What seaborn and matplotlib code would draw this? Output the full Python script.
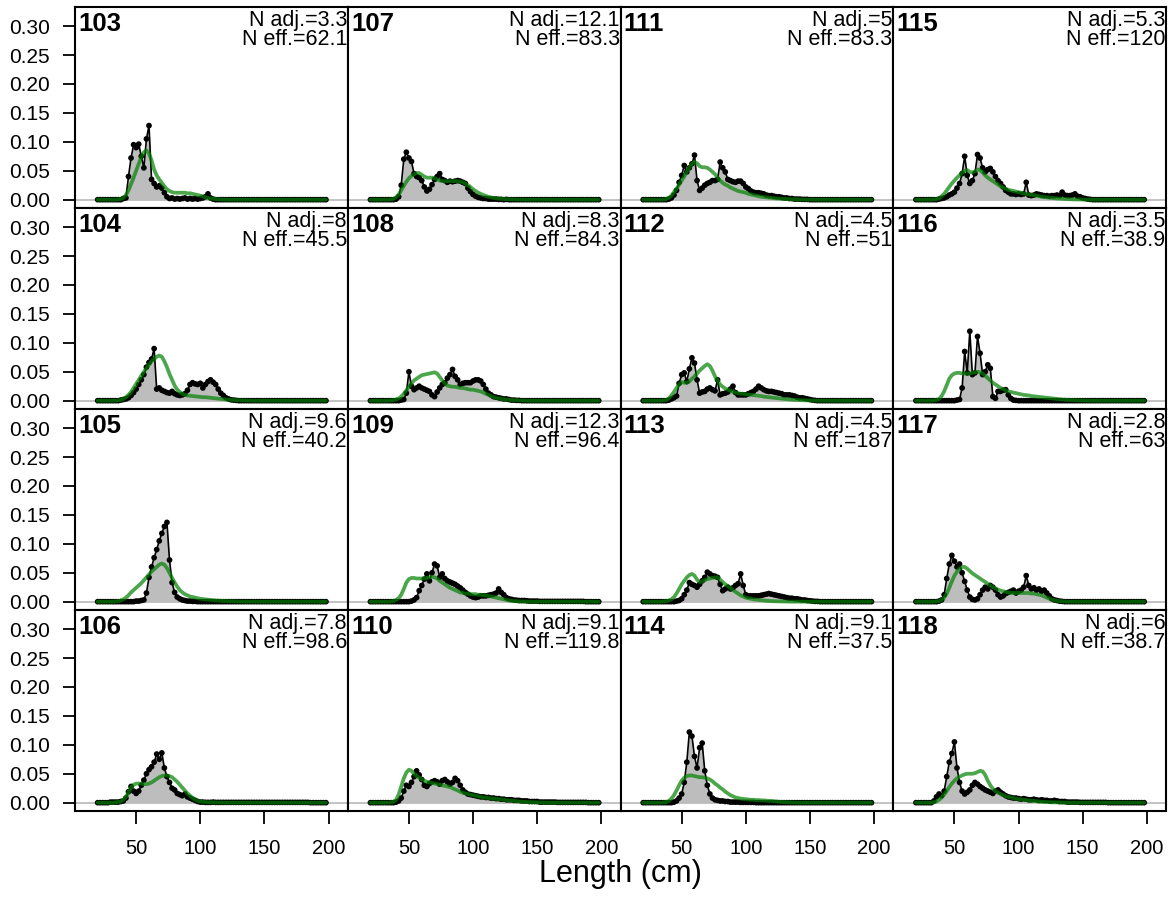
import numpy as np
import pandas as pd
import seaborn as sns
import matplotlib.pyplot as plt

# length bins (cm), 2 cm wide
lengths = list(range(20, 200, 2))

years = [103, 104, 105, 106, 107, 108, 109, 110, 111, 112, 113, 114, 115, 116, 117, 118]
n_adj = ['3.3', '8', '9.6', '7.8', '12.1', '8.3', '12.3', '9.1', '5', '4.5', '4.5', '9.1', '5.3', '3.5', '2.8', '6']
n_eff = ['62.1', '45.5', '40.2', '98.6', '83.3', '84.3', '96.4', '119.8', '83.3', '51', '187', '37.5', '120', '38.9', '63', '38.7']

# observed / expected proportions, in units of 0.001 (bins 20..198)
obs_103 = [0, 0, 0, 0, 0, 0, 0, 0, 0, 0,
           2, 3, 40, 72, 95, 90, 96, 75, 55, 105,
           128, 35, 28, 22, 24, 20, 12, 5, 2, 3,
           1, 2, 1, 2, 3, 1, 2, 1, 2, 1,
           2, 3, 5, 10, 3, 1, 0, 0, 0, 0,
           0, 0, 0, 0, 0, 0, 0, 0, 0, 0,
           0, 0, 0, 0, 0, 0, 0, 0, 0, 0,
           0, 0, 0, 0, 0, 0, 0, 0, 0, 0,
           0, 0, 0, 0, 0, 0, 0, 0, 0, 0]
exp_103 = [0, 0, 0, 0, 0, 0, 0, 0, 0.5, 1,
           3, 8, 16, 27, 38, 50, 62, 74, 82, 85,
           80, 68, 52, 42, 35, 29, 23, 18, 15, 13,
           12, 12, 12, 12, 12, 11, 11, 10, 9, 8,
           7, 6, 4, 3, 2, 1.5, 1, 0.5, 0.3, 0.2,
           0.1, 0, 0, 0, 0, 0, 0, 0, 0, 0,
           0, 0, 0, 0, 0, 0, 0, 0, 0, 0,
           0, 0, 0, 0, 0, 0, 0, 0, 0, 0,
           0, 0, 0, 0, 0, 0, 0, 0, 0, 0]

obs_104 = [0, 0, 0, 0, 0, 0, 0, 0, 0, 1,
           2, 3, 5, 9, 14, 20, 28, 36, 45, 58,
           66, 72, 90, 20, 22, 18, 16, 14, 13, 16,
           12, 10, 9, 10, 12, 18, 28, 31, 29, 28,
           30, 22, 28, 33, 36, 32, 28, 20, 13, 9,
           5, 3, 1.5, 1, 0.5, 0, 0, 0, 0, 0,
           0, 0, 0, 0, 0, 0, 0, 0, 0, 0,
           0, 0, 0, 0, 0, 0, 0, 0, 0, 0,
           0, 0, 0, 0, 0, 0, 0, 0, 0, 0]
exp_104 = [0, 0, 0, 0, 0, 0, 0, 0, 0.5, 1,
           3, 6, 10, 15, 22, 29, 36, 43, 50, 56,
           62, 68, 72, 76, 78, 76, 68, 58, 46, 36,
           26, 19, 15, 12, 10, 9, 8.5, 8, 7.5, 7,
           6.5, 6, 6, 5.5, 5, 4.5, 4, 3.5, 3, 2.5,
           2, 1.7, 1.4, 1.1, 0.9, 0.7, 0.5, 0.4, 0.3, 0.2,
           0.1, 0, 0, 0, 0, 0, 0, 0, 0, 0,
           0, 0, 0, 0, 0, 0, 0, 0, 0, 0,
           0, 0, 0, 0, 0, 0, 0, 0, 0, 0]

obs_105 = [0, 0, 0, 0, 0, 0, 0, 0, 0, 0,
           0, 0, 0, 0, 0, 1, 1, 2, 3, 15,
           42, 60, 76, 90, 105, 118, 130, 137, 72, 33,
           16, 8, 5, 3, 2, 1, 1, 0.5, 0.5, 0,
           0, 0, 0, 0, 0, 0, 0, 0, 0, 0,
           0, 0, 0, 0, 0, 0, 0, 0, 0, 0,
           0, 0, 0, 0, 0, 0, 0, 0, 0, 0,
           0, 0, 0, 0, 0, 0, 0, 0, 0, 0,
           0, 0, 0, 0, 0, 0, 0, 0, 0, 0]
exp_105 = [0, 0, 0, 0, 0, 0, 0, 0.5, 1, 2,
           4, 7, 11, 16, 20, 24, 28, 32, 37, 42,
           47, 52, 56, 60, 64, 66, 64, 58, 50, 41,
           33, 26, 20, 16, 13, 11, 9, 8, 7, 6,
           5, 4.5, 4, 3.5, 3, 2.5, 2, 1.8, 1.5, 1.2,
           1, 0.8, 0.6, 0.5, 0.4, 0.3, 0.2, 0.1, 0, 0,
           0, 0, 0, 0, 0, 0, 0, 0, 0, 0,
           0, 0, 0, 0, 0, 0, 0, 0, 0, 0,
           0, 0, 0, 0, 0, 0, 0, 0, 0, 0]

obs_106 = [0, 0, 0, 0, 0, 1, 1, 1, 1, 2,
           3, 8, 19, 28, 20, 16, 20, 30, 39, 50,
           57, 62, 70, 84, 75, 86, 60, 45, 35, 25,
           22, 16, 14, 12, 15, 10, 8, 6, 4, 2,
           1, 1, 0.5, 0.5, 0.5, 1, 0.5, 0.5, 0.5, 0.5,
           0.5, 0.5, 0.5, 0.5, 0.5, 0.5, 0.5, 0.5, 0.5, 0.5,
           0.5, 0.5, 0.5, 0.5, 0.5, 0.5, 0.5, 0.5, 0.5, 0.5,
           0.5, 0.5, 0.5, 0.5, 0.5, 0.5, 0.5, 0.5, 0.5, 0.5,
           0.5, 0.5, 0.5, 0, 0, 0, 0, 0, 0, 0]
exp_106 = [0, 0, 0, 0, 0, 0, 0, 0.5, 1, 2,
           5, 10, 18, 26, 31, 33, 33, 33, 32, 32,
           33, 35, 38, 41, 44, 46, 47, 47, 46, 44,
           40, 36, 31, 26, 21, 16, 12, 8, 5, 3,
           2, 1.5, 1, 0.8, 0.6, 0.5, 0.4, 0.3, 0.2, 0.1,
           0, 0, 0, 0, 0, 0, 0, 0, 0, 0,
           0, 0, 0, 0, 0, 0, 0, 0, 0, 0,
           0, 0, 0, 0, 0, 0, 0, 0, 0, 0,
           0, 0, 0, 0, 0, 0, 0, 0, 0, 0]

obs_107 = [0, 0, 0, 0, 0, 0, 0, 0, 0, 0,
           1, 5, 25, 70, 82, 72, 66, 45, 40, 38,
           33, 22, 15, 18, 26, 35, 40, 45, 35, 33,
           30, 32, 31, 32, 33, 32, 30, 28, 20, 14,
           9, 6, 4, 3, 2, 2, 1, 1, 1, 1,
           0.5, 0.5, 0, 0.5, 0, 0, 0, 0, 0, 0,
           0, 0, 0, 0, 0, 0, 0, 0, 0, 0,
           0, 0, 0, 0, 0, 0, 0, 0, 0, 0,
           0, 0, 0, 0, 0, 0, 0, 0, 0, 0]
exp_107 = [0, 0, 0, 0, 0, 0, 0, 0, 0.5, 1.5,
           4, 9, 16, 24, 31, 37, 41, 44, 46, 46,
           43, 40, 38, 38, 38, 37, 35, 33, 32, 32,
           32, 32, 32, 32, 32, 31, 30, 28, 25, 22,
           18, 15, 12, 10, 8, 6.5, 5, 4, 3, 2.5,
           2, 1.5, 1, 1, 0.7, 0.5, 0.4, 0.3, 0.2, 0.1,
           0, 0, 0, 0, 0, 0, 0, 0, 0, 0,
           0, 0, 0, 0, 0, 0, 0, 0, 0, 0,
           0, 0, 0, 0, 0, 0, 0, 0, 0, 0]

obs_108 = [0, 0, 0, 0, 0, 0, 0, 0, 0, 0,
           0, 0, 1, 2, 13, 50, 25, 19, 22, 25,
           22, 20, 18, 16, 10, 7, 15, 22, 28, 31,
           39, 45, 54, 42, 36, 28, 30, 31, 31, 31,
           34, 36, 36, 34, 28, 20, 13, 10, 7, 6,
           5, 4, 3, 3, 2, 1, 1, 0.5, 0.5, 0,
           0, 0, 0, 0, 0, 0, 0, 0, 0, 0,
           0, 0, 0, 0, 0, 0, 0, 0, 0, 0,
           0, 0, 0, 0, 0, 0, 0, 0, 0, 0]
exp_108 = [0, 0, 0, 0, 0, 0, 0, 0, 0.5, 1,
           2, 4, 7, 12, 18, 24, 30, 35, 38, 41,
           44, 45, 46, 47, 48, 49, 47, 41, 35, 30,
           26, 25, 24, 24, 23, 22, 22, 21, 20, 19,
           19, 18, 17, 16, 14, 12, 10, 8, 6, 5,
           4, 3, 2.5, 2, 1.5, 1.2, 1, 0.7, 0.5, 0.3,
           0.2, 0.1, 0, 0, 0, 0, 0, 0, 0, 0,
           0, 0, 0, 0, 0, 0, 0, 0, 0, 0,
           0, 0, 0, 0, 0, 0, 0, 0, 0, 0]

obs_109 = [0, 0, 0, 0, 0, 0, 0, 0, 0, 0,
           0, 0, 0, 0, 0, 0, 1, 3, 7, 19,
           28, 39, 48, 36, 50, 65, 62, 42, 48, 40,
           36, 34, 32, 30, 27, 24, 20, 16, 13, 10,
           8, 7, 8, 10, 10, 10, 11, 12, 13, 15,
           22, 16, 12, 7, 5, 4, 3, 2.5, 2, 2,
           2, 1.5, 1, 1, 1, 1, 0.5, 0.5, 0.5, 0.5,
           0.5, 0.5, 0.5, 0.5, 0.5, 0.5, 0.5, 0.5, 0.5, 0.5,
           0.5, 0.5, 0.5, 0.5, 0, 0, 0, 0, 0, 0]
exp_109 = [0, 0, 0, 0, 0, 0, 0, 0, 0.5, 1,
           3, 6, 12, 22, 33, 39, 41, 41, 40, 40,
           40, 40, 41, 42, 43, 42, 40, 36, 33, 30,
           27, 24, 22, 20, 18, 16, 15, 14, 14, 13,
           13, 13, 12, 12, 11, 11, 10, 9, 8, 7,
           6, 5, 4, 3, 2, 1.5, 1, 0.7, 0.5, 0.3,
           0.2, 0.1, 0, 0, 0, 0, 0, 0, 0, 0,
           0, 0, 0, 0, 0, 0, 0, 0, 0, 0,
           0, 0, 0, 0, 0, 0, 0, 0, 0, 0]

obs_110 = [0, 0, 0, 0, 0, 0, 0, 0, 0, 0,
           1, 3, 8, 20, 30, 28, 35, 45, 55, 48,
           40, 30, 28, 33, 36, 38, 36, 32, 38, 40,
           36, 32, 35, 42, 38, 30, 22, 18, 15, 14,
           13, 12, 11, 10, 10, 9, 9, 8, 8, 7,
           7, 6, 6, 5, 5, 5, 4, 4, 4, 3,
           3, 3, 2, 2, 2, 2, 1, 1, 1, 1,
           1, 1, 1, 0.5, 0.5, 0.5, 0.5, 0.5, 0.5, 0.5,
           0.5, 0.5, 0.5, 0.5, 0.5, 0, 0, 0, 0, 0]
exp_110 = [0, 0, 0, 0, 0, 0, 0, 0, 0.5, 1.5,
           5, 14, 28, 42, 52, 57, 55, 50, 46, 43,
           40, 38, 36, 35, 34, 33, 32, 31, 30, 29,
           28, 27, 25, 23, 21, 19, 17, 16, 15, 14,
           13, 12, 11, 10, 9, 8.5, 8, 7.5, 7, 6.5,
           6, 5.5, 5, 4.5, 4, 3.5, 3, 2.5, 2, 1.7,
           1.4, 1.2, 1, 0.8, 0.6, 0.5, 0.4, 0.3, 0.2, 0.1,
           0, 0, 0, 0, 0, 0, 0, 0, 0, 0,
           0, 0, 0, 0, 0, 0, 0, 0, 0, 0]

obs_111 = [0, 0, 0, 0, 0, 0, 0, 0, 0, 0,
           1, 3, 8, 16, 30, 42, 59, 48, 55, 62,
           77, 33, 16, 20, 25, 28, 30, 33, 33, 35,
           65, 55, 48, 35, 33, 31, 30, 32, 32, 28,
           22, 19, 15, 13, 12, 12, 11, 10, 8, 7,
           7, 6, 5, 5, 4, 3, 3, 2, 2, 1,
           1, 1, 0.5, 0.5, 0.5, 0, 0, 0, 0, 0,
           0, 0, 0, 0, 0, 0, 0, 0, 0, 0,
           0, 0, 0, 0, 0, 0, 0, 0, 0, 0]
exp_111 = [0, 0, 0, 0, 0, 0, 0, 0, 0.5, 1,
           3, 7, 13, 19, 26, 33, 40, 48, 56, 62,
           65, 63, 58, 56, 56, 55, 52, 48, 44, 38,
           33, 29, 26, 24, 21, 19, 17, 15, 14, 13,
           12, 10, 9, 8, 7, 6, 5, 4.5, 4, 3.5,
           3, 2.5, 2, 2, 1.5, 1.2, 1, 0.8, 0.6, 0.5,
           0.4, 0.3, 0.2, 0.1, 0, 0, 0, 0, 0, 0,
           0, 0, 0, 0, 0, 0, 0, 0, 0, 0,
           0, 0, 0, 0, 0, 0, 0, 0, 0, 0]

obs_112 = [0, 0, 0, 0, 0, 0, 0, 0, 0, 0,
           1, 3, 5, 8, 30, 45, 48, 33, 55, 74,
           65, 36, 13, 15, 16, 20, 22, 19, 17, 36,
           10, 12, 13, 15, 20, 25, 14, 10, 10, 10,
           10, 12, 14, 16, 20, 25, 22, 19, 17, 16,
           16, 15, 14, 13, 12, 10, 10, 10, 9, 8,
           6, 5, 5, 4, 3, 2, 1, 0.5, 0, 0,
           0, 0, 0, 0, 0, 0, 0, 0, 0, 0,
           0, 0, 0, 0, 0, 0, 0, 0, 0, 0]
exp_112 = [0, 0, 0, 0, 0, 0, 0, 0, 0.5, 1,
           4, 9, 15, 22, 28, 32, 31, 31, 33, 38,
           42, 47, 52, 56, 60, 63, 60, 52, 42, 35,
           28, 24, 21, 19, 17, 15, 14, 13, 12, 12,
           11, 10.5, 10, 9.5, 9, 8.5, 8, 7, 6.5, 6,
           5.5, 5, 4.5, 4, 3.5, 3, 2.5, 2, 1.7, 1.4,
           1.2, 1, 0.8, 0.6, 0.5, 0.4, 0.3, 0.2, 0.1, 0,
           0, 0, 0, 0, 0, 0, 0, 0, 0, 0,
           0, 0, 0, 0, 0, 0, 0, 0, 0, 0]

obs_113 = [0, 0, 0, 0, 0, 0, 0, 0, 0, 0,
           0, 0, 0, 1, 2, 5, 12, 20, 33, 30,
           28, 25, 30, 36, 42, 51, 48, 45, 44, 42,
           30, 19, 22, 25, 22, 24, 28, 31, 48, 28,
           12, 10, 10, 10, 10, 10, 11, 12, 13, 14,
           13, 12, 11, 10, 9, 8, 7, 6, 6, 5,
           5, 4, 3, 3, 2, 1.5, 1, 0.5, 0.5, 0,
           0, 0, 0, 0, 0, 0, 0, 0, 0, 0,
           0, 0, 0, 0, 0, 0, 0, 0, 0, 0]
exp_113 = [0, 0, 0, 0, 0, 0, 0, 0, 0.5, 1,
           2, 4, 8, 14, 22, 30, 36, 42, 46, 48,
           45, 38, 34, 35, 37, 39, 40, 41, 42, 42,
           38, 34, 30, 27, 24, 20, 17, 14, 11, 9,
           7, 6, 5, 4, 3.5, 3, 2.5, 2, 1.5, 1.2,
           1, 0.8, 0.6, 0.5, 0.4, 0.3, 0.2, 0.1, 0, 0,
           0, 0, 0, 0, 0, 0, 0, 0, 0, 0,
           0, 0, 0, 0, 0, 0, 0, 0, 0, 0,
           0, 0, 0, 0, 0, 0, 0, 0, 0, 0]

obs_114 = [0, 0, 0, 0, 0, 0, 0, 0, 0, 0,
           0, 0, 1, 3, 8, 15, 35, 70, 122, 115,
           80, 60, 95, 103, 55, 30, 15, 8, 5, 4,
           3, 3, 2, 2, 1, 1, 1, 1, 0.5, 0.5,
           0.5, 0.5, 0.5, 0.5, 0, 0, 0, 0, 0, 0,
           0, 0, 0, 0, 0, 0, 0, 0, 0, 0,
           0, 0, 0, 0, 0, 0, 0, 0, 0, 0,
           0, 0, 0, 0, 0, 0, 0, 0, 0, 0,
           0, 0, 0, 0, 0, 0, 0, 0, 0, 0]
exp_114 = [0, 0, 0, 0, 0, 0, 0, 0, 0.5, 1,
           3, 7, 13, 21, 30, 38, 43, 46, 47, 47,
           46, 45, 44, 44, 43, 42, 40, 37, 33, 30,
           26, 23, 19, 16, 13, 11, 9, 8, 7, 6.5,
           6, 5.5, 5, 5, 4.5, 4.5, 4, 4, 3.5, 3,
           3, 2.5, 2, 1.5, 1.2, 1, 0.7, 0.5, 0.3, 0.2,
           0, 0, 0, 0, 0, 0, 0, 0, 0, 0,
           0, 0, 0, 0, 0, 0, 0, 0, 0, 0,
           0, 0, 0, 0, 0, 0, 0, 0, 0, 0]

obs_115 = [0, 0, 0, 0, 0, 0, 0, 0, 0, 1,
           2, 3, 5, 8, 10, 13, 20, 28, 45, 75,
           42, 28, 33, 45, 78, 72, 55, 48, 52, 54,
           48, 40, 33, 28, 22, 16, 13, 10, 10, 9,
           10, 9, 10, 30, 8, 7, 8, 10, 9, 8,
           7, 7, 6, 7, 7, 8, 7, 13, 8, 7,
           7, 8, 10, 6, 5, 3, 2, 1, 0.5, 0,
           0, 0, 0, 0, 0, 0, 0, 0, 0, 0,
           0, 0, 0, 0, 0, 0, 0, 0, 0, 0]
exp_115 = [0, 0, 0, 0, 0, 0, 0, 0.5, 1, 2,
           6, 10, 16, 22, 28, 33, 38, 42, 46, 50,
           51, 48, 47, 49, 52, 51, 47, 42, 38, 35,
           32, 29, 26, 23, 21, 19, 17, 16, 15, 14,
           13, 12, 11, 10, 9, 8.5, 8, 7, 6, 5,
           4.5, 4, 3.5, 3, 2.5, 2, 2, 1.5, 1.2, 1,
           0.8, 0.6, 0.5, 0.4, 0.3, 0.2, 0.1, 0, 0, 0,
           0, 0, 0, 0, 0, 0, 0, 0, 0, 0,
           0, 0, 0, 0, 0, 0, 0, 0, 0, 0]

obs_116 = [0, 0, 0, 0, 0, 0, 0, 0, 0, 0,
           0, 0, 0, 0, 0, 0, 1, 2, 22, 85,
           48, 120, 45, 48, 111, 82, 45, 50, 62, 56,
           7, 4, 16, 16, 18, 19, 10, 4, 1, 0.5,
           0, 0, 0, 0, 0, 0, 0, 0, 0, 0,
           0, 0, 0, 0, 0, 0, 0, 0, 0, 0,
           0, 0, 0, 0, 0, 0, 0, 0, 0, 0,
           0, 0, 0, 0, 0, 0, 0, 0, 0, 0,
           0, 0, 0, 0, 0, 0, 0, 0, 0, 0]
exp_116 = [0, 0, 0, 0, 0, 0, 0, 0.5, 1, 3,
           8, 16, 27, 38, 44, 47, 48, 48, 47, 47,
           47, 47, 48, 49, 50, 49, 47, 43, 39, 35,
           31, 28, 25, 22, 20, 18, 16, 15, 14, 13,
           12, 11, 10, 9.5, 9, 8, 7.5, 7, 6.5, 6,
           5.5, 5, 4.5, 4, 3.5, 3, 2.5, 2, 1.7, 1.4,
           1.2, 1, 0.8, 0.6, 0.5, 0.4, 0.3, 0.2, 0.1, 0,
           0, 0, 0, 0, 0, 0, 0, 0, 0, 0,
           0, 0, 0, 0, 0, 0, 0, 0, 0, 0]

obs_117 = [0, 0, 0, 0, 0, 0, 0, 0, 0, 1,
           3, 12, 40, 65, 80, 70, 60, 65, 50, 35,
           20, 8, 4, 3, 5, 12, 20, 25, 22, 28,
           25, 20, 12, 8, 10, 14, 16, 18, 20, 15,
           18, 20, 25, 45, 28, 22, 24, 20, 22, 18,
           20, 15, 10, 5, 3, 2, 1, 0.5, 0, 0,
           0, 0, 0, 0, 0, 0, 0, 0, 0, 0,
           0, 0, 0, 0, 0, 0, 0, 0, 0, 0,
           0, 0, 0, 0, 0, 0, 0, 0, 0, 0]
exp_117 = [0, 0, 0, 0, 0, 0, 0, 0, 0.5, 1,
           3, 7, 14, 24, 35, 45, 52, 57, 60, 60,
           57, 53, 49, 46, 43, 40, 37, 34, 31, 28,
           25, 23, 21, 19, 18, 17, 16, 15, 15, 15,
           15, 15, 15, 15, 15, 14, 14, 13, 12, 11,
           9, 7, 5, 3.5, 2.5, 1.5, 1, 0.5, 0.3, 0,
           0, 0, 0, 0, 0, 0, 0, 0, 0, 0,
           0, 0, 0, 0, 0, 0, 0, 0, 0, 0,
           0, 0, 0, 0, 0, 0, 0, 0, 0, 0]

obs_118 = [0, 0, 0, 0, 0, 0, 0, 3, 10, 15,
           12, 20, 45, 70, 85, 105, 60, 35, 20, 15,
           18, 22, 30, 35, 32, 28, 25, 22, 20, 18,
           16, 20, 22, 18, 15, 12, 10, 9, 8, 8,
           7, 6, 7, 6, 5, 5, 6, 5, 4, 5,
           4, 4, 3, 3, 4, 3, 2, 2, 2, 1,
           1, 1, 1, 1, 0.5, 0.5, 0.5, 0.5, 0.5, 0.5,
           0.5, 0.5, 0.5, 0.5, 0.5, 0, 0, 0, 0, 0,
           0, 0, 0, 0, 0, 0, 0, 0, 0, 0]
exp_118 = [0, 0, 0, 0, 0, 0, 0, 0.5, 2, 5,
           9, 14, 20, 27, 33, 38, 42, 45, 47, 49,
           50, 50, 50, 51, 53, 55, 54, 48, 38, 30,
           24, 20, 17, 15, 13, 11, 10, 9, 8, 7,
           6, 5.5, 5, 4.5, 4, 3.5, 3, 2.5, 2, 1.5,
           1.2, 1, 0.8, 0.6, 0.5, 0.4, 0.3, 0.2, 0.1, 0,
           0, 0, 0, 0, 0, 0, 0, 0, 0, 0,
           0, 0, 0, 0, 0, 0, 0, 0, 0, 0,
           0, 0, 0, 0, 0, 0, 0, 0, 0, 0]

obs_all = [obs_103, obs_104, obs_105, obs_106, obs_107, obs_108, obs_109, obs_110,
           obs_111, obs_112, obs_113, obs_114, obs_115, obs_116, obs_117, obs_118]
exp_all = [exp_103, exp_104, exp_105, exp_106, exp_107, exp_108, exp_109, exp_110,
           exp_111, exp_112, exp_113, exp_114, exp_115, exp_116, exp_117, exp_118]

# long table
frames = []
for yr, o, e in zip(years, obs_all, exp_all):
    frames.append(pd.DataFrame({'year': yr, 'length': lengths,
                                'obs': np.array(o) / 1000.0, 'exp': np.array(e) / 1000.0}))
df = pd.concat(frames, ignore_index=True)

sns.set_style('white')
plt.rcParams['font.family'] = ['Liberation Sans', 'DejaVu Sans']
plt.rcParams['text.color'] = 'black'
plt.rcParams['xtick.color'] = 'black'
plt.rcParams['ytick.color'] = 'black'
plt.rcParams['axes.labelcolor'] = 'black'

fig, axes = plt.subplots(4, 4, figsize=(11.68, 9.13), dpi=100)
fig.subplots_adjust(left=75 / 1168, right=1166 / 1168, top=1 - 7 / 913,
                    bottom=1 - 811 / 913, wspace=0, hspace=0)

green = (0, 0.5, 0)
for k, yr in enumerate(years):
    row, col = k % 4, k // 4
    ax = axes[row, col]
    d = df[df['year'] == yr]

    ax.axhline(0, color='#bebebe', lw=1.3, zorder=1)
    ax.fill_between(d['length'], d['obs'], color='#bdbdbd', lw=0, zorder=2)
    sns.lineplot(data=d, x='length', y='obs', color='black', lw=1.2, ax=ax, zorder=3)
    sns.scatterplot(data=d, x='length', y='obs', color='black', s=17, edgecolor='none',
                    ax=ax, zorder=4)
    sns.lineplot(data=d, x='length', y='exp', color=green, alpha=0.7, lw=2.7, ax=ax, zorder=5)

    ax.set_xlim(2.3, 215)
    ax.set_ylim(-0.0144, 0.333)
    ax.set_xlabel('')
    ax.set_ylabel('')

    ax.text(0.012, 0.975, str(yr), transform=ax.transAxes, ha='left', va='top',
            fontsize=18.5, fontweight='bold', color='black')
    ax.text(0.997, 0.985, 'N adj.=' + n_adj[k] + '\nN eff.=' + n_eff[k],
            transform=ax.transAxes, ha='right', va='top', fontsize=15.5, linespacing=0.86,
            color='black')

    for s in ax.spines.values():
        s.set_visible(True)
        s.set_color('black')
        s.set_linewidth(1.5)

    if col == 0:
        ax.set_yticks([0, 0.05, 0.10, 0.15, 0.20, 0.25, 0.30])
        ax.set_yticklabels(['0.00', '0.05', '0.10', '0.15', '0.20', '0.25', '0.30'])
        ax.tick_params(axis='y', left=True, length=9, width=1.3, pad=9, labelsize=15,
                       direction='out', colors='black')
    else:
        ax.set_yticks([])
    if row == 3:
        ax.set_xticks([50, 100, 150, 200])
        ax.set_xticklabels(['50', '100', '150', '200'])
        ax.tick_params(axis='x', bottom=True, length=9.5, width=1.3, pad=11, labelsize=14.5,
                       direction='out', colors='black')
    else:
        ax.set_xticks([])

fig.text(620 / 1168, 1 - 882 / 913, 'Length (cm)', ha='center', va='baseline',
         fontsize=22, color='black')

fig.savefig('out.png', dpi=100)
